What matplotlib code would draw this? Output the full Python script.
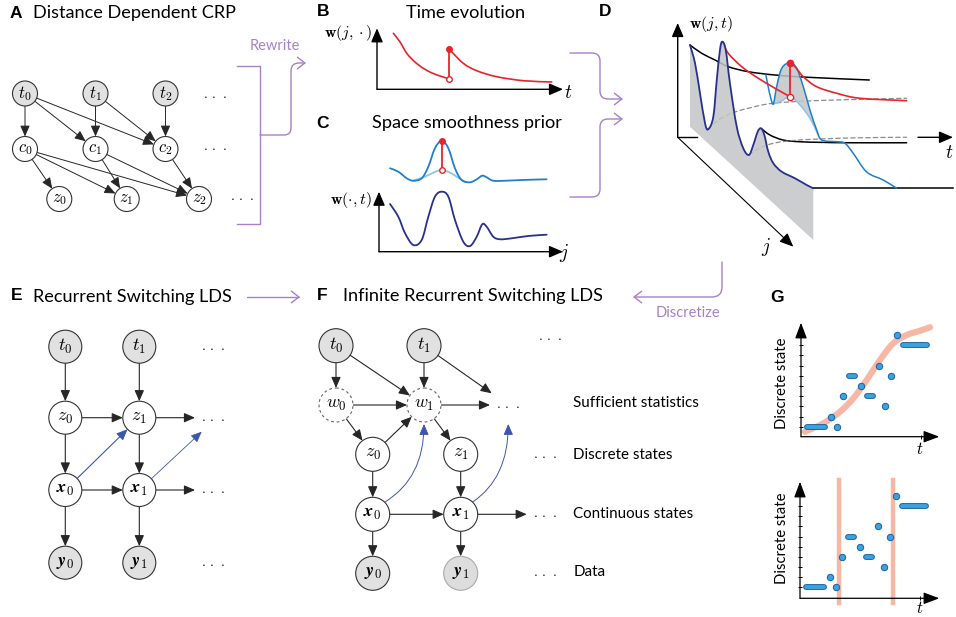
import numpy as np
import matplotlib
matplotlib.use('Agg')
import matplotlib.pyplot as plt
from matplotlib.patches import Circle, FancyArrowPatch, PathPatch
from matplotlib.path import Path
from matplotlib.mathtext import MathTextParser
from matplotlib.font_manager import FontProperties

plt.rcParams['mathtext.fontset'] = 'cm'
plt.rcParams['font.family'] = ['Lato', 'DejaVu Sans']

# ---------------- data ----------------
# B: time evolution of w(j, .) before / after the jump
b_t_before = [0.088, 0.124, 0.160, 0.204, 0.249, 0.296, 0.339, 0.389]
b_w_before = [0.918, 0.775, 0.590, 0.448, 0.344, 0.267, 0.218, 0.169]
b_t_after = [0.389, 0.464, 0.536, 0.643, 0.787, 0.939]
b_w_after = [0.656, 0.426, 0.305, 0.207, 0.141, 0.120]

# C: spatial profile w(., t) and the smoothness prior above it
c_j = [0.06, 0.105, 0.141, 0.186, 0.232, 0.268, 0.304, 0.341, 0.377, 0.413,
       0.458, 0.495, 0.531, 0.561, 0.585, 0.621, 0.658, 0.721, 0.811, 0.911]
c_w = [0.795, 0.583, 0.312, 0.112, 0.195, 0.583, 0.917, 1.0, 0.917, 0.528,
       0.167, 0.095, 0.25, 0.457, 0.417, 0.25, 0.207, 0.223, 0.262, 0.283]
c_prior_j = [0.06, 0.105, 0.151, 0.186, 0.232, 0.268, 0.304, 0.341, 0.377, 0.413,
             0.449, 0.495, 0.531, 0.561, 0.585, 0.621, 0.685, 0.776, 0.911]
c_prior_w = [1.39, 1.333, 1.223, 1.183, 1.223, 1.417, 1.723, 1.85, 1.723, 1.39,
             1.195, 1.157, 1.207, 1.267, 1.24, 1.183, 1.183, 1.195, 1.207]
c_base_j = [0.186, 0.25, 0.295, 0.341, 0.386, 0.431, 0.467]
c_base_w = [1.183, 1.25, 1.317, 1.362, 1.317, 1.233, 1.167]
c_jump_j = 0.341

# D: surface w(j, t); heights in pixels above the (j, t) floor
d_front_j = [0, .041, .081, .122, .148, .189, .217, .243, .262, .29, .324, .379,
             .432, .478, .513, .549, .576, .603, .635, .676, .744, .852, .946, 1.0]
d_front_w = [81.7, 68, 42.6, 17.2, 14.2, 31.4, 71.2, 104.3, 114.7, 109.5, 80.1, 42.9,
             27.4, 25.9, 39.8, 57.2, 63.6, 60, 46.9, 40, 39.3, 44.9, 48.9, 51.7]
d_top_t = [0, .065, .139, .213, .324, .472, .657, .996]
d_top_w = [81.7, 73.4, 66.7, 60, 55, 51.7, 49.4, 46.7]
d_peak_j = 0.262
d_peak_t1 = [0, .033, .108, .2, .293, .376]
d_peak_w1 = [114.7, 103.1, 89.7, 78.1, 68.1, 59.7]
d_peak_t2 = [.376, .404, .45, .524, .636, .765, 1.024]
d_peak_w2 = [93.7, 89.7, 79.7, 69.7, 63.1, 58.1, 55.7]
d_trough1_j = 0.148
d_trough1_t = [0, .056, .13, .222, .361, .62, 1.102]
d_trough1_w = [14.2, 23.5, 30.2, 35.2, 40.2, 43, 45.2]
d_bump_j = 0.576
d_bump_t = [0, .05, .124, .217, .337, .494, .809]
d_bump_w = [63.6, 56.9, 51.9, 50.2, 49.6, 49.2, 49.2]
d_trough2_j = 0.478
d_trough2_t = [0, .061, .145, .284, .562, .876]
d_trough2_w = [25.9, 32.9, 37.9, 40.9, 42.9, 43.6]
d_end_t = [0, 0.778]
d_end_w = [51.7, 51.7]
d_t1 = 0.376
d_new_j = [0.067, 0.084, 0.104, 0.127, 0.154, 0.195, 0.262, 0.316, 0.37, 0.424,
           0.479, 0.519, 0.641, 0.708, 0.775, 0.884, 1.019, 1.127]
d_new_w = [59.3, 50.2, 41.5, 37.1, 57.5, 80.5, 93.7, 94.2, 81.9, 64.7,
           50.9, 45.5, 57.6, 63.6, 61.2, 54.9, 62.1, 66.1]
d_old_j = [0.127, 0.195, 0.262, 0.343, 0.424, 0.491]
d_old_w = [37.1, 47.8, 59.7, 60.6, 56.4, 47.3]

# G: discrete state sequence (start step, end step, level)
g_start = [1, 5, 6, 7, 8, 10, 11, 13, 14, 15, 16, 17]
g_end = [4, 5, 6, 7, 9, 10, 12, 13, 14, 15, 16, 21]
g_level = [0, 1, 0, 3, 5, 4, 3, 6, 2, 5, 9, 8]
g_trend_t = [0.67, 3.72, 6.5, 8.72, 10.95, 13.17, 15.38, 17.62, 19.83, 21.5]
g_trend_level = [-0.49, 0.33, 1.47, 2.78, 4.58, 6.54, 8.18, 8.99, 9.41, 9.75]
g_changepoints = [6.5, 15.5]

# ---------------- style ----------------
PURPLE = '#a680c8'
NAVY = '#27308f'
BLUE = '#1f80c8'
LIGHTBLUE = '#8fc4ea'
RED = '#e8232b'
SHADE = '#c4c5c7'
NODE_GRAY = '#e1e1e1'
EDGE = '#262626'
ARROW_BLUE = '#3d56aa'
SALMON = '#f5ab95'
G_FILL = '#3ba2e2'
G_EDGE = '#1c5f9c'
SANS = ['Lato', 'DejaVu Sans']
DOTS = r'$\cdot\,\cdot\,\cdot$'

W, H = 956, 617
fig = plt.figure(figsize=(W / 100, H / 100), dpi=100)
ax = fig.add_axes([0, 0, 1, 1])
ax.set_xlim(0, W)
ax.set_ylim(H, 0)
ax.axis('off')


def bold_sym(ch):
    s = r'\mathbfit{%s}' % ch
    try:
        MathTextParser('agg').parse('$' + s + '$', 72, FontProperties())
        return s
    except Exception:
        return r'\mathbf{%s}' % ch


def px_axes(x0, y0, x1, y1):
    a = fig.add_axes([x0 / W, 1 - y1 / H, (x1 - x0) / W, (y1 - y0) / H])
    a.patch.set_alpha(0)
    for s in a.spines.values():
        s.set_visible(False)
    a.set_xticks([])
    a.set_yticks([])
    return a


def axis_arrows(a, lw=1.0, hl=0.7, hw=0.3):
    style = '-|>,head_length=%s,head_width=%s' % (hl, hw)
    for end in [(1, 0), (0, 1)]:
        a.annotate('', xy=end, xytext=(0, 0), xycoords='axes fraction',
                   annotation_clip=False,
                   arrowprops=dict(arrowstyle=style, lw=lw, color='black',
                                   shrinkA=0, shrinkB=0, mutation_scale=12))


def smooth_path(xs, ys):
    p = np.column_stack([xs, ys]).astype(float)
    n = len(p)
    verts, codes = [p[0]], [Path.MOVETO]
    for i in range(n - 1):
        p0, p1, p2, p3 = p[max(i - 1, 0)], p[i], p[i + 1], p[min(i + 2, n - 1)]
        verts += [p1 + (p2 - p0) / 6, p2 - (p3 - p1) / 6, p2]
        codes += [Path.CURVE4] * 3
    return Path(verts, codes)


def curve(a, xs, ys, z=3, **kw):
    a.add_patch(PathPatch(smooth_path(xs, ys), fill=False, capstyle='round',
                          joinstyle='round', zorder=z, clip_on=False, **kw))


def fill_region(a, upper, lower, z=2, **kw):
    verts = list(upper.vertices) + list(lower.vertices) + [upper.vertices[0]]
    codes = list(upper.codes) + [Path.LINETO] + list(lower.codes[1:]) + [Path.CLOSEPOLY]
    a.add_patch(PathPatch(Path(verts, codes), lw=0, zorder=z, clip_on=False, **kw))


def edge(p, q, rp=0.0, rq=0.0, color=EDGE, lw=0.8, z=2):
    p = np.asarray(p, float)
    q = np.asarray(q, float)
    u = (q - p) / np.hypot(*(q - p))
    ax.add_patch(FancyArrowPatch(p + u * rp, q - u * rq,
                                 arrowstyle='-|>,head_length=0.55,head_width=0.24',
                                 mutation_scale=12, color=color, lw=lw,
                                 shrinkA=0, shrinkB=0, zorder=z))


def node(p, r, label, fc='white', ec='#333333', ls='-', size=12):
    ax.add_patch(Circle(p, r, fc=fc, ec=ec, lw=0.8, ls=ls, zorder=3))
    ax.text(p[0], p[1], label, ha='center', va='center', fontsize=size, zorder=4)


def dots(p, size=10):
    ax.text(p[0], p[1], DOTS, ha='center', va='center', fontsize=size)


def purple_path(pts, codes, arrow=True):
    path = Path(pts, codes)
    if arrow:
        ax.add_patch(FancyArrowPatch(path=path, arrowstyle='->,head_length=0.45,head_width=0.35',
                                     mutation_scale=12, color=PURPLE, lw=1.0))
    else:
        ax.add_patch(PathPatch(path, fill=False, ec=PURPLE, lw=1.0))


def letter(x, y, s):
    ax.text(x, y, s, fontsize=12.5, fontweight='bold', ha='center', va='center',
            family=['Liberation Sans', 'DejaVu Sans'])


def title(x, y, s, ha='left', size=13.1):
    ax.text(x, y, s, fontsize=size, ha=ha, va='center', family=SANS)


L, M, C3 = Path.LINETO, Path.MOVETO, Path.CURVE3

# ---------------- A ----------------
letter(16, 13, 'A')
title(33, 13, 'Distance Dependent CRP')
a_pos = {'t0': (25, 93.5), 't1': (95.5, 93.5), 't2': (165.5, 93.5),
         'c0': (25, 149), 'c1': (95.5, 149), 'c2': (165.5, 149),
         'z0': (59.3, 199), 'z1': (126.7, 199), 'z2': (199, 199)}
a_edges = [('t0', 'c0'), ('t0', 'c1'), ('t0', 'c2'), ('t1', 'c1'), ('t1', 'c2'),
           ('t2', 'c2'), ('c0', 'z0'), ('c0', 'z1'), ('c0', 'z2'), ('c1', 'z1'),
           ('c1', 'z2'), ('c2', 'z2')]
RA = 12.5
for k, p in a_pos.items():
    node(p, RA, r'$%s_%s$' % (k[0], k[1]), fc=NODE_GRAY if k[0] == 't' else 'white', size=12)
for s, d in a_edges:
    edge(a_pos[s], a_pos[d], RA, RA, lw=0.7)
for p in [(215, 95), (215, 147), (242, 197)]:
    dots(p)

# bracket and "Rewrite"
ax.plot([237, 260, 260, 237], [66, 66, 224, 224], color=PURPLE, lw=1.0)
purple_path([(260, 135), (284, 135), (291, 135), (291, 128), (291, 71), (291, 63), (299, 63), (306, 63)],
            [M, L, C3, C3, L, C3, C3, L])
ax.text(275, 46, 'Rewrite', color=PURPLE, fontsize=10.5, ha='center', va='center')

# ---------------- B ----------------
letter(323, 12, 'B')
title(466, 13, 'Time evolution', ha='center')
axb = px_axes(377, 28.3, 563, 89.3)
axb.set_xlim(0, 1)
axb.set_ylim(0, 1)
axis_arrows(axb)
curve(axb, b_t_before, b_w_before, ec=RED, lw=1.2)
curve(axb, b_t_after, b_w_after, ec=RED, lw=1.2)
axb.plot([b_t_after[0]] * 2, [b_w_before[-1], b_w_after[0]], color=RED, lw=1.3, clip_on=False)
axb.plot(b_t_after[0], b_w_after[0], 'o', color=RED, ms=4, clip_on=False, zorder=5)
axb.plot(b_t_before[-1], b_w_before[-1], 'o', mfc='white', mec=RED, mew=1.0, ms=4,
         clip_on=False, zorder=5)
ax.text(372, 33, r'$\mathbf{w}(j,\cdot)$', ha='right', va='center', fontsize=11.5)
ax.text(568, 92, r'$t$', ha='center', va='center', fontsize=14)

# ---------------- C ----------------
letter(323, 123, 'C')
title(467, 123, 'Space smoothness prior', ha='center')
axc = px_axes(379, 191.7, 563, 251.7)
axc.set_xlim(0, 1)
axc.set_ylim(0, 1)
axis_arrows(axc)
curve(axc, c_j, c_w, ec=NAVY, lw=1.3)
curve(axc, c_base_j, c_base_w, ec=LIGHTBLUE, lw=1.3)
curve(axc, c_prior_j, c_prior_w, ec=BLUE, lw=1.3)
axc.plot([c_jump_j] * 2, [max(c_base_w), max(c_prior_w)], color=RED, lw=1.3, clip_on=False, zorder=5)
axc.plot(c_jump_j, max(c_prior_w), 'o', color=RED, ms=4, clip_on=False, zorder=6)
axc.plot(c_jump_j, max(c_base_w), 'o', mfc='white', mec=RED, mew=1.0, ms=4, clip_on=False, zorder=6)
ax.text(372, 200, r'$\mathbf{w}(\cdot,t)$', ha='right', va='center', fontsize=11.5)
ax.text(564, 253, r'$j$', ha='center', va='center', fontsize=14)

# purple arrows into D
purple_path([(570, 53), (592, 53), (600, 53), (600, 61), (600, 91), (600, 99), (608, 99), (623, 99)],
            [M, L, C3, C3, L, C3, C3, L])
purple_path([(570, 197), (592, 197), (600, 197), (600, 189), (600, 127), (600, 119), (608, 119), (623, 119)],
            [M, L, C3, C3, L, C3, C3, L])

# ---------------- D ----------------
letter(605, 12, 'D')
D0 = np.array([690.0, 126.7])
DJ = np.array([123.3, 113.3])
DT = 180.0


def proj(t, j, w):
    t, j, w = (np.broadcast_to(np.asarray(v, float), np.shape(w)) for v in (t, j, w))
    return D0[0] + DJ[0] * j + DT * t, D0[1] + DJ[1] * j - w


# axes
arrow_kw = dict(arrowstyle='-|>,head_length=0.7,head_width=0.3', color='black', lw=1.0,
                shrinkA=0, shrinkB=0, mutation_scale=12)
ax.annotate('', xy=(677.7, 23), xytext=(677.7, 137.3), arrowprops=arrow_kw)
ax.plot([677.7, 696.7], [137.3, 137.3], color='black', lw=1.0)
ax.annotate('', xy=(953, 137.3), xytext=(918, 137.3), arrowprops=arrow_kw)
ax.annotate('', xy=(793.3, 246.7), xytext=(677.7, 137.3), arrowprops=dict(arrow_kw, lw=0.8))
ax.text(711, 24, r'$\mathbf{w}(j,t)$', ha='center', va='center', fontsize=11.5)
ax.text(766, 247, r'$j$', ha='center', va='center', fontsize=14)
ax.text(949, 152, r'$t$', ha='center', va='center', fontsize=14)

# time slices behind the front plane
x, y = proj(d_top_t, 0, d_top_w)
curve(ax, x, y, z=2, ec='black', lw=1.1)
x, y = proj(d_bump_t, d_bump_j, d_bump_w)
curve(ax, x, y, z=2, ec='black', lw=1.1)
x, y = proj(d_end_t, 1.0, d_end_w)
ax.plot(x, y, color='black', lw=1.1, zorder=2)
for tt, jj, ww in [(d_trough1_t, d_trough1_j, d_trough1_w), (d_trough2_t, d_trough2_j, d_trough2_w)]:
    x, y = proj(tt, jj, ww)
    curve(ax, x, y, z=2, ec='#8c8c8c', lw=0.9, ls=(0, (3.5, 2.5)))

# profile at the jump time
xn, yn = proj(d_t1, d_new_j, d_new_w)
xo, yo = proj(d_t1, d_old_j, d_old_w)
k0, k1 = 3, 12
fill_region(ax, smooth_path(xn[k0:k1], yn[k0:k1]), smooth_path(xo[::-1], yo[::-1]),
            z=2.4, fc=SHADE, alpha=0.85)
curve(ax, xo, yo, z=2.5, ec=LIGHTBLUE, lw=1.1)
curve(ax, xn, yn, z=2.6, ec=BLUE, lw=1.1)

# red time slice through the peak
x, y = proj(d_peak_t1, d_peak_j, d_peak_w1)
curve(ax, x, y, z=2.7, ec=RED, lw=1.2)
x2, y2 = proj(d_peak_t2, d_peak_j, d_peak_w2)
curve(ax, x2, y2, z=2.7, ec=RED, lw=1.2)
ax.plot([x[-1], x2[0]], [y[-1], y2[0]], color=RED, lw=1.3, zorder=2.8)
ax.plot(x2[0], y2[0], 'o', color=RED, ms=4.5, zorder=2.9)
ax.plot(x[-1], y[-1], 'o', mfc='white', mec=RED, mew=1.0, ms=4.5, zorder=2.9)

# front plane at t = 0
xf, yf = proj(0, d_front_j, d_front_w)
xb, yb = proj(0, [1.0, 0.0], [0.0, 0.0])
fill_region(ax, smooth_path(xf, yf), Path(np.column_stack([xb, yb]), [M, L]),
            z=3, fc=SHADE, alpha=0.85)
curve(ax, xf, yf, z=3.5, ec=NAVY, lw=1.3)

# Discretize
purple_path([(722, 262), (722, 287), (722, 297), (712, 297), (633, 297)], [M, L, C3, C3, L])
ax.text(688, 313, 'Discretize', color=PURPLE, fontsize=10.5, ha='center', va='center')

# ---------------- E ----------------
letter(17, 296, 'E')
title(33, 297, 'Recurrent Switching LDS')
purple_path([(247, 297), (300, 297)], [M, L])
RE = 16.5
xb0, xb1 = bold_sym('x'), bold_sym('y')
e_pos = {'t0': (65.3, 346.7), 't1': (139.3, 346.7), 'z0': (65.3, 417.7), 'z1': (139.3, 417.7),
         'x0': (65.3, 490), 'x1': (139.3, 490), 'y0': (65.3, 562.7), 'y1': (139.3, 562.7)}
sym = {'t': 't', 'z': 'z', 'x': xb0, 'y': xb1}
for k, p in e_pos.items():
    node(p, RE, r'$%s_%s$' % (sym[k[0]], k[1]), fc=NODE_GRAY if k[0] in 'ty' else 'white', size=13)
for s, d in [('t0', 'z0'), ('t1', 'z1'), ('z0', 'x0'), ('z1', 'x1'), ('x0', 'y0'),
             ('x1', 'y1'), ('z0', 'z1'), ('x0', 'x1')]:
    edge(e_pos[s], e_pos[d], RE, RE)
edge(e_pos['z1'], (195, 417.7), RE, 0)
edge(e_pos['x1'], (195, 490), RE, 0)
edge(e_pos['x0'], e_pos['z1'], RE, RE, color=ARROW_BLUE, lw=0.8)
edge(e_pos['x1'], (201.7, 431.7), RE, 0, color=ARROW_BLUE, lw=0.6)
for yy in [346.7, 417.7, 490, 562.7]:
    dots((213.3, yy))

# ---------------- F ----------------
letter(322, 295, 'F')
title(343, 296, 'Infinite Recurrent Switching LDS')
RF = 17
f_pos = {'t0': (336, 345.7), 't1': (424, 345.7), 'w0': (336, 405), 'w1': (424, 405),
         'z0': (372.7, 454.3), 'z1': (460.7, 454.3), 'x0': (372.7, 514.3), 'x1': (460.7, 514.3),
         'y0': (372.7, 573.3), 'y1': (460.7, 573.3)}
sym['w'] = 'w'
for k, p in f_pos.items():
    lab = r'$%s_%s$' % (sym[k[0]], k[1])
    if k[0] == 'w':
        node(p, RF, lab, ec='#666666', ls=(0, (2.5, 2.5)), size=13)
    elif k == 'y1':
        node(p, RF, lab, fc='#dddddd', ec='#aaaaaa', size=13)
    else:
        node(p, RF, lab, fc=NODE_GRAY if k[0] in 'ty' else 'white', size=13)
for s, d in [('t0', 'w0'), ('t0', 'w1'), ('t1', 'w1'), ('w0', 'w1'), ('w0', 'z0'),
             ('z0', 'w1'), ('w1', 'z1'), ('z0', 'x0'), ('z1', 'x1'), ('x0', 'x1'),
             ('x0', 'y0'), ('x1', 'y1')]:
    edge(f_pos[s], f_pos[d], RF, RF)
edge(f_pos['t1'], (491.7, 393.3), RF, 0)
edge(f_pos['w1'], (490, 405), RF, 0)
edge(f_pos['x1'], (526.7, 514.3), RF, 0)
for start, ctrl, tip in [((385, 502), (424, 478), (424, 424)), ((472.7, 502), (508.3, 478), (508.3, 424))]:
    ax.add_patch(FancyArrowPatch(path=Path([start, ctrl, tip], [M, C3, C3]),
                                 arrowstyle='-|>,head_length=0.55,head_width=0.24',
                                 mutation_scale=12, color=ARROW_BLUE, lw=0.7, zorder=2))
for p in [(550, 337.3), (508.3, 405), (545, 455), (545, 514.3), (545, 573.3)]:
    dots(p)
for yy, s in [(403, 'Sufficient statistics'), (455, 'Discrete states'),
              (513.5, 'Continuous states'), (572, 'Data')]:
    ax.text(573.3, yy, s, fontsize=10.9, ha='left', va='center')

# ---------------- G ----------------
letter(777, 297, 'G')


def g_axes(box, ylim, xlim):
    ga = px_axes(*box)
    ga.set_xlim(*xlim)
    ga.set_ylim(*ylim)
    axis_arrows(ga, lw=0.9, hl=0.8, hw=0.3)
    ga.set_yticks(range(9))
    ga.set_xticks([20])
    ga.set_xticklabels([])
    ga.set_yticklabels([])
    ga.tick_params(direction='inout', length=3.5, width=0.7)
    for s, e, lv in zip(g_start, g_end, g_level):
        if s == e:
            ga.plot(s, lv, 'o', ms=4.6, mfc=G_FILL, mec=G_EDGE, mew=0.7, zorder=5, clip_on=False)
        else:
            ga.plot([s, e], [lv, lv], color=G_EDGE, lw=4.2, solid_capstyle='round', zorder=5)
            ga.plot([s, e], [lv, lv], color=G_FILL, lw=2.8, solid_capstyle='round', zorder=6)
    return ga


gt = g_axes((801, 322.7, 939.3, 436.7), (-0.98, 10.2), (0, 23.05))
curve(gt, g_trend_t, g_trend_level, z=1, ec=SALMON, lw=4.5, alpha=0.85)
gb = g_axes((800, 481.7, 939.3, 598.3), (-1.08, 10.4), (0, 23.2))
for cp in g_changepoints:
    gb.plot([cp, cp], [-1.58, 10.57], color=SALMON, lw=3.2, alpha=0.85, clip_on=False, zorder=1)
for yy in [383.3, 538.3]:
    ax.text(782, yy, 'Discrete state', rotation=90, fontsize=10.7, ha='center', va='center')
ax.text(920, 449, r'$t$', ha='center', va='center', fontsize=12)
ax.text(920, 608, r'$t$', ha='center', va='center', fontsize=12)

fig.savefig('out.png', dpi=100)
